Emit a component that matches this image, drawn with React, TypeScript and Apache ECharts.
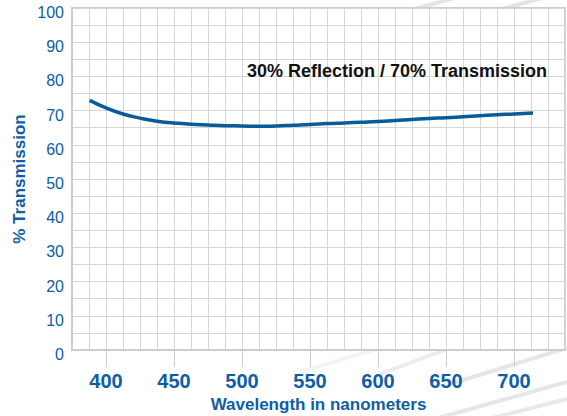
import React, { useEffect, useRef } from "react";
import * as echarts from "echarts";

const wavelengths = [388, 400, 412.5, 425, 437.5, 450, 462.5, 475, 487.5, 500, 512.5, 525, 537.5, 550, 562.5, 575, 587.5, 600, 612.5, 625, 637.5, 650, 662.5, 675, 687.5, 700, 714];
const transmission = [73.0, 70.8, 69.0, 67.8, 66.9, 66.4, 66.0, 65.8, 65.6, 65.5, 65.4, 65.5, 65.7, 65.9, 66.2, 66.4, 66.6, 66.8, 67.1, 67.4, 67.7, 67.9, 68.2, 68.5, 68.8, 69.0, 69.3];
const xTickLabels = [400, 450, 500, 550, 600, 650, 700];
const yTickLabels = [0, 10, 20, 30, 40, 50, 60, 70, 80, 90, 100];

const BLUE = "#0d5ea6";
const LINE = "#0a5b9c";
const GRID = "#d6d6d6";
const BORDER = "#cdcdcd";
const FONT = "Liberation Sans, Arial, Helvetica, sans-serif";

export default function App() {
  const ref = useRef<HTMLDivElement>(null);
  useEffect(() => {
    if (!ref.current) return;
    const chart = echarts.init(ref.current, null, { renderer: "svg" });
    const stripe = (x1: number, y1: number, x2: number, y2: number, w: number, c: string) => ({
      type: "line",
      z: -10,
      shape: { x1, y1, x2, y2 },
      style: { stroke: c, lineWidth: w },
      silent: true,
    });
    chart.setOption({
      animation: false,
      backgroundColor: "#ffffff",
      textStyle: { fontFamily: FONT },
      title: {
        text: "30% Reflection / 70% Transmission",
        right: 15,
        top: 57,
        textStyle: { fontSize: 18, fontWeight: "bold", color: "#111111", fontFamily: FONT },
      },
      graphic: [
        stripe(300, 372, 380, 348, 4, "#f3f3f3"),
        stripe(380, 374, 450, 348, 4, "#ececec"),
        stripe(450, 384, 567, 348, 4, "#e6e6e6"),
        stripe(438, 418, 567, 382, 4, "#e6e6e6"),
        stripe(492, 418, 567, 399, 4, "#e8e8e8"),
        stripe(415, 9, 455, -2, 4, "#e3e3e3"),
        stripe(502, 9, 542, -2, 4, "#e3e3e3"),
      ],
      grid: {
        left: 72,
        right: 2,
        top: 8,
        bottom: 66,
        show: true,
        backgroundColor: "#ffffff",
        borderColor: BORDER,
        borderWidth: 2,
        outerBoundsMode: "none",
      },
      xAxis: [
        {
          type: "value",
          min: 375,
          max: 737.5,
          interval: 25,
          name: "Wavelength in nanometers",
          nameLocation: "middle",
          nameGap: 46,
          nameMoveOverlap: false,
          nameTextStyle: { fontSize: 17, fontWeight: "bold", color: BLUE, fontFamily: FONT },
          axisLine: { show: true, lineStyle: { color: BORDER, width: 2 } },
          axisTick: { show: false },
          minorTick: { show: false, splitNumber: 2 },
          axisLabel: {
            formatter: (v: number) => (xTickLabels.indexOf(v) >= 0 ? String(v) : ""),
            margin: 21,
            fontSize: 20,
            fontWeight: "bold",
            color: BLUE,
            fontFamily: FONT,
          },
          splitLine: { show: true, lineStyle: { color: GRID, width: 1 } },
          minorSplitLine: { show: true, lineStyle: { color: GRID, width: 1 } },
        },
        {
          type: "value",
          gridIndex: 0,
          position: "bottom",
          min: 375,
          max: 737.5,
          axisLine: { show: false },
          axisTick: {
            show: true,
            customValues: xTickLabels,
            length: 17,
            lineStyle: { color: BORDER, width: 1 },
          },
          axisLabel: { show: false },
          splitLine: { show: false },
        },
      ],
      yAxis: {
        type: "value",
        min: 0,
        max: 100,
        interval: 10,
        name: "% Transmission",
        nameLocation: "middle",
        nameRotate: 90,
        nameGap: 44,
        nameMoveOverlap: false,
        nameTextStyle: { fontSize: 17, fontWeight: "bold", color: BLUE, fontFamily: FONT },
        axisLine: { show: true, lineStyle: { color: BORDER, width: 2 } },
        axisTick: { show: false },
        minorTick: { show: false, splitNumber: 2 },
        axisLabel: {
          formatter: (v: number) => (yTickLabels.indexOf(v) >= 0 ? String(v) : ""),
          margin: 8,
          fontSize: 16,
          color: BLUE,
          fontFamily: FONT,
          verticalAlign: "top",
          lineHeight: 9,
        },
        splitLine: { show: true, lineStyle: { color: GRID, width: 1 } },
        minorSplitLine: { show: true, lineStyle: { color: GRID, width: 1 } },
      },
      series: [
        {
          type: "line",
          xAxisIndex: 0,
          data: wavelengths.map((w, i) => [w, transmission[i]]),
          smooth: true,
          showSymbol: false,
          lineStyle: { color: LINE, width: 3.5 },
          z: 5,
        },
      ],
    });
    return () => chart.dispose();
  }, []);
  return <div ref={ref} style={{ width: 567, height: 416, position: "absolute", left: 0, top: 0 }} />;
}
